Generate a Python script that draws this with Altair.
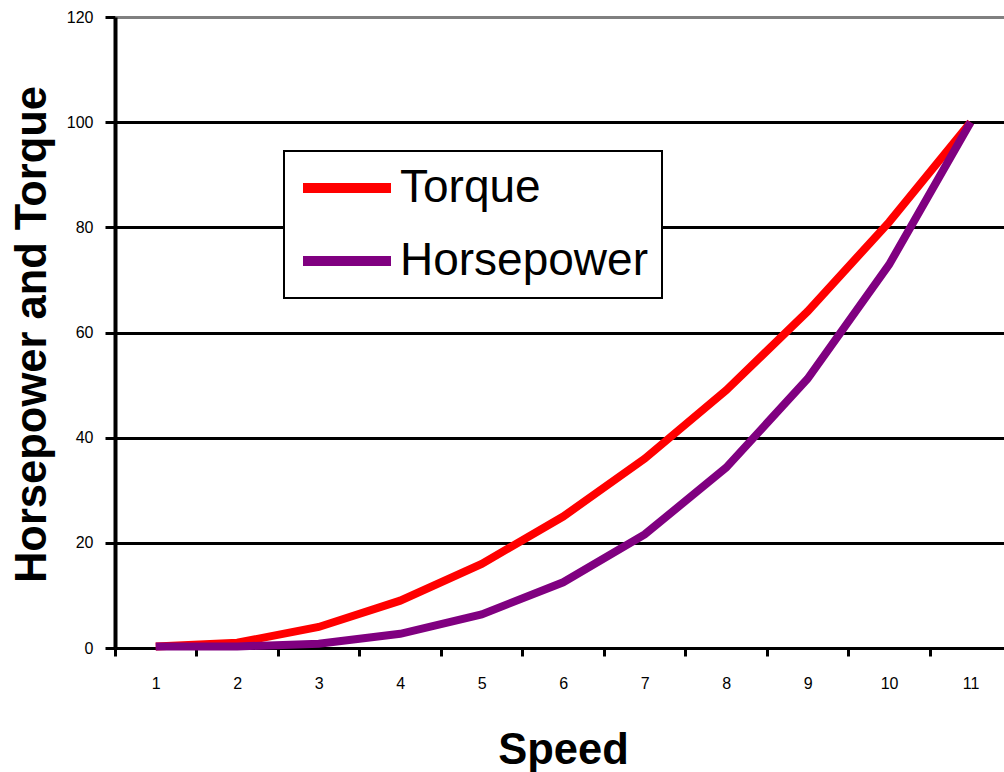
import altair as alt
import pandas as pd

speed = [1, 2, 3, 4, 5, 6, 7, 8, 9, 10, 11]
torque = [0.3, 1, 4, 9, 16, 25, 36, 49, 64, 81, 100]
horsepower = [0.3, 0.3, 0.8, 2.7, 6.4, 12.5, 21.6, 34.3, 51.2, 72.9, 100]
series = ["Torque", "Horsepower"]
colors = ["#FF0000", "#800080"]
y_ticks = [0, 20, 40, 60, 80, 100, 120]

rows = []
for name, vals in zip(series, [torque, horsepower]):
    for s, v in zip(speed, vals):
        rows.append({"Speed": s, "Value": v, "Series": name})
df = pd.DataFrame(rows)

FONT = "Liberation Sans"
band = 889 / 10.91

chart = alt.Chart(df).mark_line(strokeWidth=8, strokeCap="butt").encode(
    x=alt.X(
        "Speed:Q",
        scale=alt.Scale(domain=[0.5, 11.41], nice=False, zero=False),
        axis=alt.Axis(
            values=speed,
            title="Speed",
            grid=False,
            tickOffset=-band / 2,
            labelOffset=band / 2,
            tickSize=8,
            tickWidth=3,
            tickColor="black",
            domainColor="black",
            domainWidth=3,
            labelFont=FONT,
            labelFontSize=16,
            labelColor="black",
            labelPadding=19,
            titleFont=FONT,
            titleFontSize=43.5,
            titleFontWeight="bold",
            titleColor="black",
            titleX=448,
            titleY=115,
            titleAlign="center",
            titleBaseline="alphabetic",
        ),
    ),
    y=alt.Y(
        "Value:Q",
        scale=alt.Scale(domain=[0, 120], nice=False),
        axis=alt.Axis(
            values=y_ticks,
            title="Horsepower and Torque",
            grid=True,
            gridColor={"condition": {"test": "datum.value === 120", "value": "#808080"}, "value": "black"},
            gridWidth=3,
            tickSize=10,
            tickWidth=3,
            tickColor="black",
            domainColor="black",
            domainWidth=4,
            labelFont=FONT,
            labelFontSize=16,
            labelColor="black",
            labelPadding=12,
            titleFont=FONT,
            titleFontSize=43.5,
            titleFontWeight="bold",
            titleColor="black",
            titleX=-70,
            titleY=317,
            titleAlign="center",
            titleBaseline="alphabetic",
        ),
    ),
    color=alt.Color(
        "Series:N",
        scale=alt.Scale(domain=series, range=colors),
        sort=series,
        legend=alt.Legend(
            title=None,
            orient="none",
            legendX=169,
            legendY=134,
            symbolType="stroke",
            symbolSize=7744,
            symbolStrokeWidth=10,
            labelFont=FONT,
            labelFontSize=46,
            labelColor="black",
            labelLimit=500,
            labelOffset=4,
            padding=14,
            clipHeight=46,
            rowPadding=27,
            strokeColor="black",
            fillColor="white",
        ),
    ),
    order=alt.Order("Speed:Q"),
).properties(
    width=889,
    height=631,
    autosize=alt.AutoSizeParams(type="none"),
    padding={"left": 115, "top": 17, "right": 0, "bottom": 124},
).configure_view(
    stroke="transparent"
).configure_legend(
    strokeWidth=2
)

chart.save("out.html", embed_options={"renderer": "svg", "actions": False})
